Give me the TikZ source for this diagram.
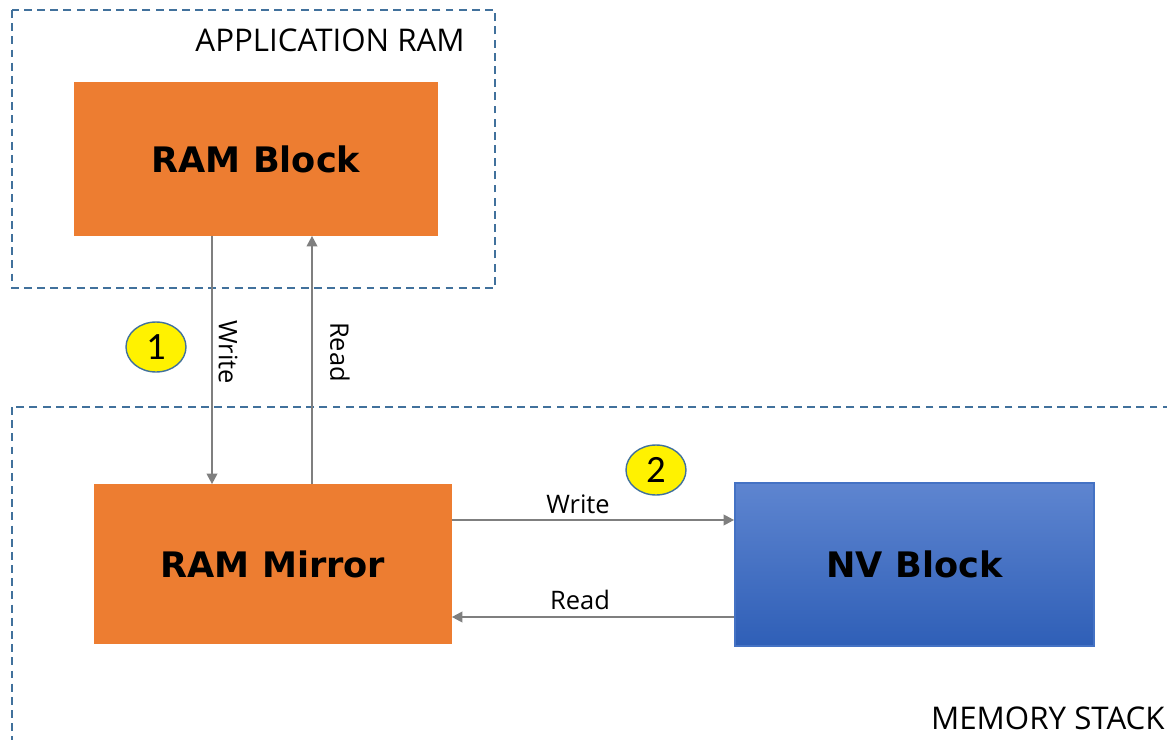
\documentclass[tikz,border=0pt]{standalone}
\usepackage{fontspec}
\setmainfont{Carlito}
\newfontfamily\boxfont{DejaVu Sans}
\newfontfamily\labelfont{Open Sans}
\usetikzlibrary{arrows.meta, shapes.geometric}
\definecolor{boxorange}{HTML}{ED7D31}
\definecolor{nvtop}{HTML}{5E85D0}
\definecolor{nvbottom}{HTML}{2F5FB7}
\definecolor{nvedge}{HTML}{4472C4}
\definecolor{frameblue}{HTML}{41719C}
\definecolor{arrowgray}{HTML}{7F7F7F}

\begin{document}
\begin{tikzpicture}[x=0.02cm, y=-0.02cm,
    frame/.style = {draw=frameblue, line width=1.1pt, dash pattern=on 4.5pt off 3pt},
    block/.style = {draw=nvedge, line width=1pt, font=\boxfont\bfseries\fontsize{20}{23}\selectfont},
    ramblk/.style = {block, draw=boxorange, fill=boxorange},
    flow/.style = {draw=arrowgray, line width=1.2pt, -{Triangle[length=6pt, width=6pt]}},
    lbl/.style = {inner sep=0pt, font=\labelfont\fontsize{14.5}{17}\selectfont},
    title/.style = {inner sep=0pt, font=\labelfont\fontsize{17.8}{20}\selectfont},
    badge/.style = {ellipse, draw=frameblue, line width=0.8pt, fill=yellow, minimum width=1.2cm, minimum height=1cm, inner sep=0pt, font=\fontsize{22}{24}\selectfont}]

    \useasboundingbox (0,0) rectangle (1167,740);
    \clip (0,0) rectangle (1167,740);

    % Frames:
    \draw[frame] (12,10) rectangle (495,288);
    \draw[frame] (12,407) rectangle (1200,780);
    \node[title, anchor=east] (apptitle) at (465,40) {APPLICATION RAM};
    \node[title, anchor=east] (memtitle) at (1165,718) {MEMORY STACK};

    % Blocks:
    \node[ramblk, minimum width=7.24cm, minimum height=3.04cm] (ramblock) at (256,159) {RAM Block};
    \node[ramblk, minimum width=7.12cm, minimum height=3.16cm] (rammirror) at (273,564) {RAM Mirror};
    \node[block, top color=nvtop, bottom color=nvbottom, minimum width=7.18cm, minimum height=3.26cm] (nvblock) at (914.5,564.5) {NV Block};

    % Arrows:
    \coordinate (wx) at (212,0);
    \coordinate (rx) at (312,0);
    \coordinate (wy) at (0,520);
    \coordinate (ry) at (0,617);
    \draw[flow] (ramblock.south -| wx) -- (rammirror.north -| wx);
    \draw[flow] (rammirror.north -| rx) -- (ramblock.south -| rx);
    \draw[flow] (rammirror.east |- wy) -- (nvblock.west |- wy);
    \draw[flow] (nvblock.west |- ry) -- (rammirror.east |- ry);

    \node[lbl, rotate=-90] (wlabel) at (228,352) {Write};
    \node[lbl, rotate=-90] (rlabel) at (340,352) {Read};
    \node[lbl] (wlabel2) at (578,504) {Write};
    \node[lbl] (rlabel2) at (580,600) {Read};

    % Steps:
    \node[badge] (one) at (156,347) {1};
    \node[badge] (two) at (656,470) {2};
\end{tikzpicture}
\end{document}
